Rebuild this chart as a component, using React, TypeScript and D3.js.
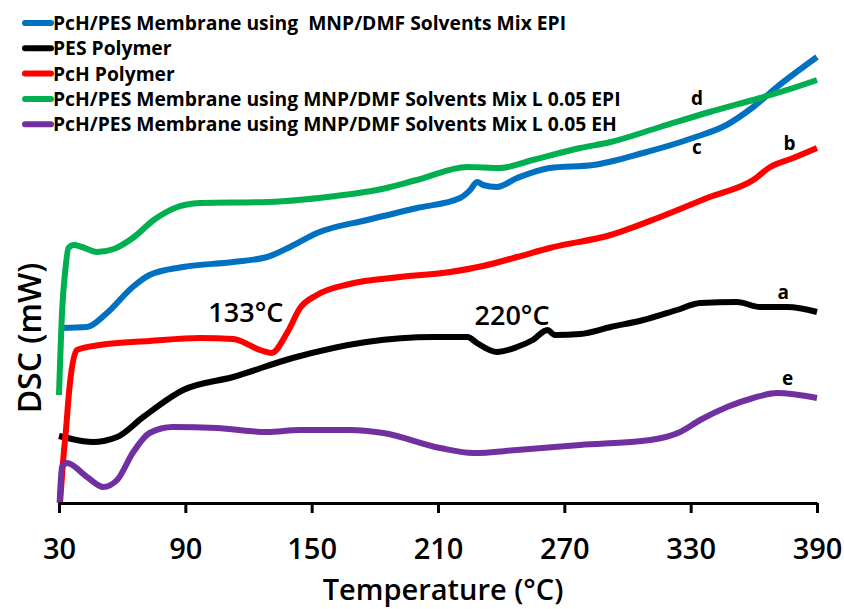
import { useEffect, useRef } from 'react';
import * as d3 from 'd3';

// x tick values (°C)
const tempTicks = [30, 90, 150, 210, 270, 330, 390];

// PcH/PES membrane, MNP/DMF solvents mix EPI (c)
const epiT = [31, 43.3, 52.8, 65, 73, 89, 112.7, 128.8, 139.7, 152.6, 176.3, 200, 220.5, 225.3, 228.6, 231.4, 238, 247.6, 263, 283.7, 307.4, 331, 347, 359.7, 371, 390];
const epiV = [182, 183, 197, 223, 235, 243, 248, 253, 263, 277, 290, 302, 312, 320, 328, 325, 323, 332, 342, 345, 357, 372, 385, 403, 423, 453];

// PES polymer (a)
const pesT = [30, 34, 46, 57.6, 70, 89, 112.7, 141, 176, 208, 224, 228.5, 238, 247.5, 255, 262, 265.5, 277.5, 292, 307.5, 323.5, 334.5, 352, 363, 376, 390];
const pesV = [74, 72, 68, 73, 93, 120, 133, 152, 168, 173, 173, 167, 158, 163, 170, 180, 175, 176, 183, 190, 200, 207, 208, 203, 203, 198];

// PcH polymer (b)
const pchT = [30.5, 31.8, 33.3, 35, 38.5, 49.5, 73, 97, 112.7, 125.5, 131, 138.3, 144.5, 152.5, 168, 192, 215.7, 231.4, 247.6, 263, 292, 315.5, 339, 359.7, 367.8, 378.7, 390];
const pchV = [7, 45, 80, 123, 160, 165, 169, 172, 171, 160, 157, 177, 202, 215, 226, 233, 238, 244, 253, 262, 275, 293, 313, 330, 343, 352, 362];

// PcH/PES membrane, L 0.05 EPI (d)
const l05EpiT = [30, 31.5, 33, 34.5, 37, 41, 48, 56, 65, 75, 85, 97, 129, 165, 181, 200, 224, 239.5, 255, 277.5, 292, 315.5, 339, 363, 378.7, 390];
const l05EpiV = [115, 200, 240, 262, 265, 263, 258, 261, 272, 290, 302, 307, 308, 315, 320, 330, 343, 342, 350, 362, 368, 383, 398, 412, 422, 430];

// PcH/PES membrane, L 0.05 EH (e)
const l05EhT = [30.3, 31.4, 33.8, 43.3, 51, 57.6, 65, 73, 84, 105, 128.8, 144.5, 168, 184, 211, 226.7, 247.6, 277.5, 310.8, 325, 334.5, 347.3, 359.7, 371, 390];
const l05EhV = [7, 43, 47, 33, 23, 30, 57, 77, 83, 82, 78, 80, 80, 77, 62, 57, 60, 65, 70, 78, 90, 103, 112, 117, 112];

const legendLabels = [
  'PcH/PES Membrane using  MNP/DMF Solvents Mix EPI',
  'PES Polymer',
  'PcH Polymer',
  'PcH/PES Membrane using MNP/DMF Solvents Mix L 0.05 EPI',
  'PcH/PES Membrane using MNP/DMF Solvents Mix L 0.05 EH',
];
const colors = ['#0070C0', '#000000', '#FF0000', '#00B050', '#7030A0'];
const curveLetters = ['c', 'a', 'b', 'd', 'e'];
const peakLabels = ['133°C', '220°C'];
const peakT = [133, 220];

const series = [
  { t: epiT, v: epiV },
  { t: pesT, v: pesV },
  { t: pchT, v: pchV },
  { t: l05EpiT, v: l05EpiV },
  { t: l05EhT, v: l05EhV },
];

const W = 844;
const H = 609;
const font = '"Open Sans", sans-serif';

export default function App() {
  const axisRef = useRef<SVGGElement>(null);

  const x = d3.scaleLinear().domain([30, 390]).range([59, 817]);
  const y = d3.scaleLinear().domain([7, 460]).range([503, 50]);

  const line = d3.line<[number, number]>()
    .x(d => x(d[0]))
    .y(d => y(d[1]))
    .curve(d3.curveMonotoneX);

  useEffect(() => {
    if (!axisRef.current) return;
    const g = d3.select(axisRef.current);
    g.selectAll('*').remove();
    g.call(
      d3.axisBottom(x)
        .tickValues(tempTicks)
        .tickSize(10)
        .tickSizeOuter(0)
        .tickPadding(25)
        .tickFormat(d3.format('d') as any)
    );
    g.select('.domain').attr('stroke', '#000').attr('stroke-width', 3);
    g.selectAll('.tick line').attr('stroke', '#000').attr('stroke-width', 3);
    g.selectAll('.tick text')
      .attr('fill', '#000')
      .style('font-family', font)
      .style('font-size', '29px')
      .style('font-weight', 600);
  }, []);

  // letter labels near the right end of each curve (offset from the curve)
  const letterPos = [
    { t: 333, dy: 18 },
    { t: 374, dy: -8 },
    { t: 377, dy: -9 },
    { t: 333, dy: -11 },
    { t: 376, dy: -9 },
  ];
  // annotation offsets from the peak temperatures
  const peakDx = [-30, 53];
  const peakY = [322, 325];

  return (
    <svg width={W} height={H} style={{ position: 'absolute', left: 0, top: 0, background: '#fff' }}>
      {series.map((s, i) => (
        <path
          key={i}
          d={line(s.t.map((t, j) => [t, s.v[j]] as [number, number])) || ''}
          fill="none"
          stroke={colors[i]}
          strokeWidth={6}
          strokeLinejoin="round"
        />
      ))}

      <g ref={axisRef} transform={`translate(0,${y(7)})`} />

      <text
        x={443}
        y={600}
        textAnchor="middle"
        fontFamily={font}
        fontSize={29}
        fontWeight={600}
      >
        Temperature (°C)
      </text>

      <text
        transform="translate(41,338) rotate(-90)"
        textAnchor="middle"
        fontFamily={font}
        fontSize={32}
        fontWeight={600}
      >
        DSC (mW)
      </text>

      {peakLabels.map((p, i) => (
        <text
          key={i}
          x={x(peakT[i]) + peakDx[i]}
          y={peakY[i]}
          textAnchor="middle"
          fontFamily={font}
          fontSize={27}
          fontWeight={600}
        >
          {p}
        </text>
      ))}

      {series.map((s, i) => {
        const t = letterPos[i].t;
        const v = d3.scaleLinear().domain(s.t).range(s.v)(t);
        return (
          <text
            key={i}
            x={x(t)}
            y={y(v) + letterPos[i].dy}
            textAnchor="middle"
            fontFamily={font}
            fontSize={19}
            fontWeight={700}
          >
            {curveLetters[i]}
          </text>
        );
      })}

      {legendLabels.map((label, i) => (
        <g key={i} transform={`translate(0,${23 + i * 25.3})`}>
          <line x1={25} x2={51} y1={0} y2={0} stroke={colors[i]} strokeWidth={6} strokeLinecap="round" />
          <text x={53} y={7} fontFamily={font} fontSize={19.3} fontWeight={700} style={{ whiteSpace: 'pre' }}>
            {label}
          </text>
        </g>
      ))}
    </svg>
  );
}
